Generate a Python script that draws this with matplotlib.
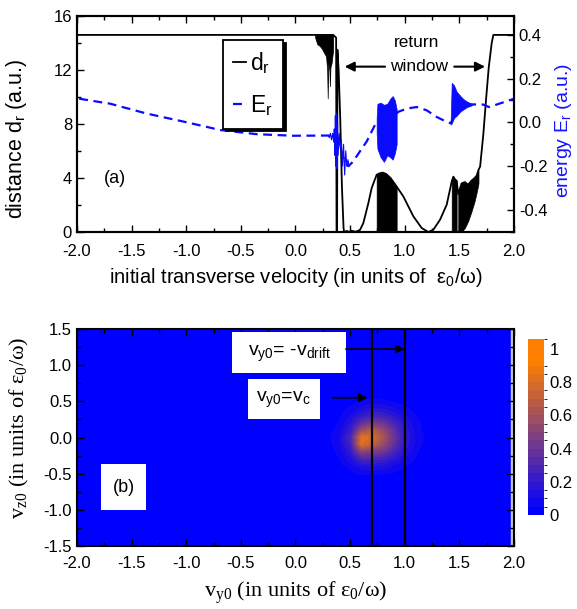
import numpy as np
import matplotlib
matplotlib.use('Agg')
import matplotlib.pyplot as plt
from matplotlib.colors import ListedColormap, BoundaryNorm
from matplotlib.lines import Line2D
from matplotlib.patches import Rectangle
from matplotlib.ticker import MultipleLocator, FormatStrFormatter

plt.rcParams['font.family'] = 'Liberation Sans'
plt.rcParams['axes.unicode_minus'] = False
plt.rcParams['mathtext.default'] = 'regular'

# ---- panel (a): distance d_r (left axis) ----
dr_x = [-2.0, 0.18, 0.345, 0.372, 0.376, 0.381, 0.384, 0.395, 0.41, 0.425, 0.44, 0.445,
        0.47, 0.49, 0.51, 0.55, 0.59, 0.621, 0.667, 0.697, 0.743, 0.77, 0.798, 0.83, 0.87,
        0.926, 0.987, 1.079, 1.155, 1.216, 1.262, 1.323, 1.384, 1.43, 1.445, 1.46, 1.475,
        1.49, 1.52, 1.55, 1.58, 1.61, 1.64, 1.66, 1.675, 1.69, 1.72, 1.744, 1.769, 1.796,
        1.811, 2.0]
dr_y = [14.6, 14.6, 14.6, 14.4, 0.0, 0.0, 13.5, 12.0, 8.3, 3.4, 0.3, 0.0,
        0.08, 0.0, 0.1, 0.02, 0.15, 0.66, 2.14, 3.25, 4.24, 4.35, 4.4, 4.3, 4.0,
        3.37, 2.64, 1.16, 0.3, 0.0, 0.17, 0.91, 2.02, 3.74, 4.1, 3.9, 3.8,
        2.8, 3.6, 3.7, 3.5, 3.8, 4.0, 4.2, 4.6, 4.85, 7.3, 9.8, 12.2, 14.0,
        14.6, 14.6]

# dense oscillation regions of d_r (lower / upper envelopes)
drA_x = [0.18, 0.20, 0.22, 0.24, 0.26, 0.28, 0.29, 0.295, 0.30, 0.31, 0.315, 0.32, 0.33, 0.345]
drA_lo = [14.4, 13.9, 13.8, 13.6, 13.3, 13.0, 12.0, 9.9, 12.5, 12.0, 10.8, 12.2, 12.5, 13.5]
drA_hi = [14.6] * len(drA_x)
drB_x = [0.743, 0.77, 0.798, 0.83, 0.87, 0.926]
drB_hi = [4.24, 4.35, 4.4, 4.3, 4.0, 3.37]
drC_x = [1.43, 1.445, 1.46, 1.475]
drC_hi = [3.74, 4.1, 3.9, 3.8]
drD_x = [1.49, 1.52, 1.55, 1.58, 1.61, 1.64, 1.66, 1.675]
drD_lo = [0.0, 0.0, 0.3, 0.8, 1.5, 2.3, 3.0, 3.6]
drD_hi = [2.8, 3.6, 3.7, 3.5, 3.8, 4.0, 4.2, 4.6]

# ---- panel (a): energy E_r (right axis) ----
er_x = [-1.98, -1.695, -1.36, -1.02, -0.686, -0.35, -0.014, 0.285, 0.33, 0.40, 0.45,
        0.484, 0.529, 0.59, 0.652, 0.697, 0.743, 0.84, 0.926, 0.941, 1.018, 1.109, 1.201,
        1.292, 1.368, 1.42, 1.52, 1.62, 1.72, 1.77, 1.84, 1.93, 2.0]
er_y = [0.108, 0.085, 0.04, 0.003, -0.035, -0.054, -0.061, -0.06, -0.06, -0.10, -0.18,
        -0.20, -0.178, -0.132, -0.087, -0.042, 0.003, -0.03, 0.04, 0.048, 0.063, 0.07, 0.055,
        0.025, 0.006, -0.004, 0.08, 0.082, 0.081, 0.07, 0.081, 0.096, 0.108]

erN_x = [0.30, 0.31, 0.32, 0.33, 0.34, 0.35, 0.355, 0.36, 0.365, 0.37, 0.375, 0.38, 0.385,
         0.39, 0.40, 0.41, 0.42, 0.43, 0.44, 0.45, 0.46, 0.47, 0.48, 0.49]
erN_y = [-0.06, -0.07, -0.05, -0.08, -0.05, -0.09, -0.03, -0.15, 0.03, -0.2, 0.04, -0.21, 0.0,
         -0.15, -0.05, -0.12, -0.08, -0.2, -0.1, -0.24, -0.13, -0.2, -0.17, -0.2]

erB_x = [0.743, 0.75, 0.78, 0.81, 0.84, 0.87, 0.89, 0.91, 0.926]
erB_lo = [-0.05, -0.12, -0.16, -0.18, -0.15, -0.16, -0.17, -0.14, -0.10]
erB_hi = [0.02, 0.085, 0.09, 0.08, 0.085, 0.11, 0.12, 0.10, 0.06]
erC_x = [1.42, 1.43, 1.45, 1.475, 1.51, 1.54, 1.57, 1.60, 1.62]
erC_lo = [-0.01, -0.005, 0.02, 0.03, 0.05, 0.06, 0.07, 0.075, 0.08]
erC_hi = [0.0, 0.18, 0.17, 0.14, 0.12, 0.105, 0.095, 0.088, 0.083]

# ---- panel (b): distribution over (v_y0, v_z0) ----
heat_vy = [0.3, 0.4, 0.5, 0.6, 0.7, 0.8, 0.9, 1.0, 1.1, 1.2]
heat_vz = [0.6, 0.5, 0.4, 0.3, 0.2, 0.1, 0.0, -0.1, -0.2, -0.3, -0.4, -0.5, -0.6]
heat = np.array([
    [0.00, 0.00, 0.00, 0.01, 0.02, 0.02, 0.01, 0.00, 0.00, 0.00],
    [0.00, 0.00, 0.03, 0.05, 0.07, 0.06, 0.04, 0.03, 0.01, 0.00],
    [0.00, 0.02, 0.06, 0.12, 0.16, 0.14, 0.10, 0.06, 0.03, 0.00],
    [0.00, 0.04, 0.10, 0.20, 0.28, 0.25, 0.18, 0.10, 0.05, 0.01],
    [0.02, 0.06, 0.16, 0.36, 0.45, 0.40, 0.28, 0.15, 0.07, 0.02],
    [0.03, 0.08, 0.22, 0.58, 0.68, 0.55, 0.36, 0.18, 0.08, 0.02],
    [0.04, 0.10, 0.30, 0.85, 0.78, 0.62, 0.40, 0.20, 0.09, 0.03],
    [0.03, 0.09, 0.26, 0.80, 0.70, 0.55, 0.36, 0.18, 0.08, 0.02],
    [0.02, 0.07, 0.20, 0.50, 0.46, 0.40, 0.28, 0.14, 0.06, 0.01],
    [0.01, 0.05, 0.13, 0.28, 0.28, 0.25, 0.17, 0.09, 0.04, 0.00],
    [0.00, 0.03, 0.07, 0.14, 0.15, 0.13, 0.09, 0.05, 0.02, 0.00],
    [0.00, 0.01, 0.03, 0.06, 0.06, 0.05, 0.04, 0.02, 0.00, 0.00],
    [0.00, 0.00, 0.00, 0.00, 0.01, 0.01, 0.00, 0.00, 0.00, 0.00]])
v_c = 0.7
v_drift = 1.0
cbar_ticks = [0, 0.2, 0.4, 0.6, 0.8, 1.0]
cbar_labels = ['0', '0.2', '0.4', '0.6', '0.8', '1']

fig = plt.figure(figsize=(5.77, 6.09), dpi=100)

# ================= panel (a) =================
ax1 = fig.add_axes([0.1334, 0.619, 0.7574, 0.3547])
ax2 = ax1.twinx()

ax1.plot(dr_x, dr_y, color='k', lw=1.3)
ax1.fill_between(drA_x, drA_lo, drA_hi, color='k', lw=0.5)
ax1.fill_between(drB_x, 0, drB_hi, color='k', lw=0.5)
ax1.fill_between(drC_x, 0, drC_hi, color='k', lw=0.5)
ax1.fill_between(drD_x, drD_lo, drD_hi, color='k', lw=0.5)

ax2.plot(er_x, er_y, color='#0a0aff', lw=1.6, dashes=(4, 2.5))
ax2.plot(erN_x, erN_y, color='#0a0aff', lw=0.8)
ax2.fill_between(erB_x, erB_lo, erB_hi, color='#0a0aff', lw=0.5)
ax2.fill_between(erC_x, erC_lo, erC_hi, color='#0a0aff', lw=0.5)

ax1.set_xlim(-2, 2)
ax1.set_ylim(0, 16)
ax2.set_ylim(-0.5, 0.485)
ax1.xaxis.set_major_locator(MultipleLocator(0.5))
ax1.xaxis.set_minor_locator(MultipleLocator(0.25))
ax1.xaxis.set_major_formatter(FormatStrFormatter('%.1f'))
ax1.yaxis.set_major_locator(MultipleLocator(4))
ax1.yaxis.set_minor_locator(MultipleLocator(2))
ax2.yaxis.set_major_locator(MultipleLocator(0.2))
ax2.yaxis.set_minor_locator(MultipleLocator(0.1))
ax2.yaxis.set_major_formatter(FormatStrFormatter('%.1f'))
ax1.tick_params(which='both', direction='in', top=True, right=False, labelsize=12, width=1)
ax1.tick_params(axis='x', which='both', pad=8.5)
ax1.tick_params(which='major', length=5)
ax1.tick_params(which='minor', length=3)
ax2.tick_params(which='both', direction='in', labelsize=12, width=1)
ax2.tick_params(which='major', length=5)
ax2.tick_params(which='minor', length=3)
for a in (ax1, ax2):
    for s in a.spines.values():
        s.set_linewidth(1.5)

ax1.set_xlabel('initial transverse velocity (in units of  $ε_0$/ω)', fontsize=14.5, labelpad=5)
ax1.set_ylabel('distance $d_r$ (a.u.)', fontsize=15.5)
ax1.yaxis.set_label_coords(-0.11, 0.43)
ax2.set_ylabel('energy $E_r$ (a.u.)', fontsize=14, color='#1414ff')
ax2.yaxis.set_label_coords(1.09, 0.472)

handles = [Line2D([], [], color='k', lw=1.3),
           Line2D([], [], color='#0a0aff', lw=1.6, dashes=(4, 2.5))]
leg = ax2.legend(handles, ['$d_r$', '$E_r$'], loc='upper left',
                 bbox_to_anchor=(0.334, 0.889), borderaxespad=0, fontsize=16.5,
                 handlelength=0.55, handletextpad=0.2, borderpad=0.45, labelspacing=0.75,
                 fancybox=False, framealpha=1, edgecolor='k',
                 shadow={'color': 'k', 'alpha': 1})
leg.get_frame().set_linewidth(1.3)

ax1.text(1.107, 14.07, 'return', fontsize=12.5, ha='center', va='center')
ax1.text(1.13, 12.24, 'window', fontsize=12.5, ha='center', va='center')
ax1.annotate('', xy=(0.45, 12.25), xytext=(0.82, 12.25),
             arrowprops=dict(arrowstyle='-|>', color='k', lw=1.5, mutation_scale=14,
                             shrinkA=0, shrinkB=0))
ax1.annotate('', xy=(1.735, 12.25), xytext=(1.453, 12.25),
             arrowprops=dict(arrowstyle='-|>', color='k', lw=1.5, mutation_scale=14,
                             shrinkA=0, shrinkB=0))
ax1.text(-1.65, 4.0, '(a)', fontsize=13, ha='center', va='center')

# ================= panel (b) =================
ax3 = fig.add_axes([0.1334, 0.1034, 0.7574, 0.3563])
ax3.set_facecolor('#0000ff')

bounds = [0.05 * i for i in range(19)] + [1.06]
t = np.linspace(0, 1, len(bounds) - 1)
cmap = ListedColormap([(ti, 0.5 * ti, 1 - ti) for ti in t])
norm = BoundaryNorm(bounds, cmap.N)
dvy = heat_vy[1] - heat_vy[0]
dvz = heat_vz[0] - heat_vz[1]
im = ax3.imshow(heat, cmap=cmap, norm=norm, interpolation='bilinear', aspect='auto',
                extent=[heat_vy[0] - dvy / 2, heat_vy[-1] + dvy / 2,
                        heat_vz[-1] - dvz / 2, heat_vz[0] + dvz / 2], zorder=1)
ax3.axvspan(1.972, 2.0, color='#c4c4c4', zorder=1)
ax3.axvline(v_c, color='k', lw=1.6, zorder=3)
ax3.axvline(v_drift, color='k', lw=1.6, zorder=3)

ax3.set_xlim(-2, 2)
ax3.set_ylim(-1.5, 1.5)
ax3.xaxis.set_major_locator(MultipleLocator(0.5))
ax3.xaxis.set_minor_locator(MultipleLocator(0.25))
ax3.yaxis.set_major_locator(MultipleLocator(0.5))
ax3.yaxis.set_minor_locator(MultipleLocator(0.25))
ax3.xaxis.set_major_formatter(FormatStrFormatter('%.1f'))
ax3.yaxis.set_major_formatter(FormatStrFormatter('%.1f'))
ax3.tick_params(which='both', direction='in', top=True, right=True, labelsize=12, width=1,
                zorder=5)
ax3.tick_params(axis='x', which='both', pad=7.5)
ax3.tick_params(which='major', length=5)
ax3.tick_params(which='minor', length=3)
for s in ax3.spines.values():
    s.set_linewidth(1.5)
    s.set_zorder(6)

ax3.set_xlabel('$v_{y0}$ (in units of $ε_0$/ω)', fontsize=16, family='Liberation Serif',
               labelpad=6)
ax3.set_ylabel('$v_{z0}$ (in units of $ε_0$/ω)', fontsize=16, family='Liberation Serif')
ax3.yaxis.set_label_coords(-0.105, 0.544)

# white label boxes
for (x0, y0, x1, y1) in [(-0.581, 0.891, 0.462, 1.458), (-0.439, 0.251, 0.222, 0.813),
                         (-1.78, -1.003, -1.368, -0.367)]:
    ax3.add_patch(Rectangle((x0, y0), x1 - x0, y1 - y0, facecolor='white',
                            edgecolor='none', zorder=4))
ax3.text(-0.06, 1.16, '$v_{y0}$= -$v_{drift}$', fontsize=14, ha='center', va='center', zorder=5)
ax3.text(-0.108, 0.52, '$v_{y0}$=$v_c$', fontsize=14, ha='center', va='center', zorder=5)
ax3.text(-1.574, -0.685, '(b)', fontsize=13, ha='center', va='center', zorder=5)
ax3.annotate('', xy=(v_drift, 1.223), xytext=(0.462, 1.223),
             arrowprops=dict(arrowstyle='-|>', color='k', lw=1.3, mutation_scale=12,
                             shrinkA=0, shrinkB=0), zorder=5)
ax3.annotate('', xy=(0.66, 0.55), xytext=(0.342, 0.55),
             arrowprops=dict(arrowstyle='-|>', color='k', lw=1.3, mutation_scale=12,
                             shrinkA=0, shrinkB=0), zorder=5)

cax = fig.add_axes([0.915, 0.1544, 0.028, 0.289])
cb = fig.colorbar(im, cax=cax, spacing='proportional', ticks=cbar_ticks)
cb.ax.set_yticklabels(cbar_labels)
cb.outline.set_visible(False)
cax.tick_params(length=0, labelsize=12, pad=4)

fig.savefig('out.png', dpi=100)
